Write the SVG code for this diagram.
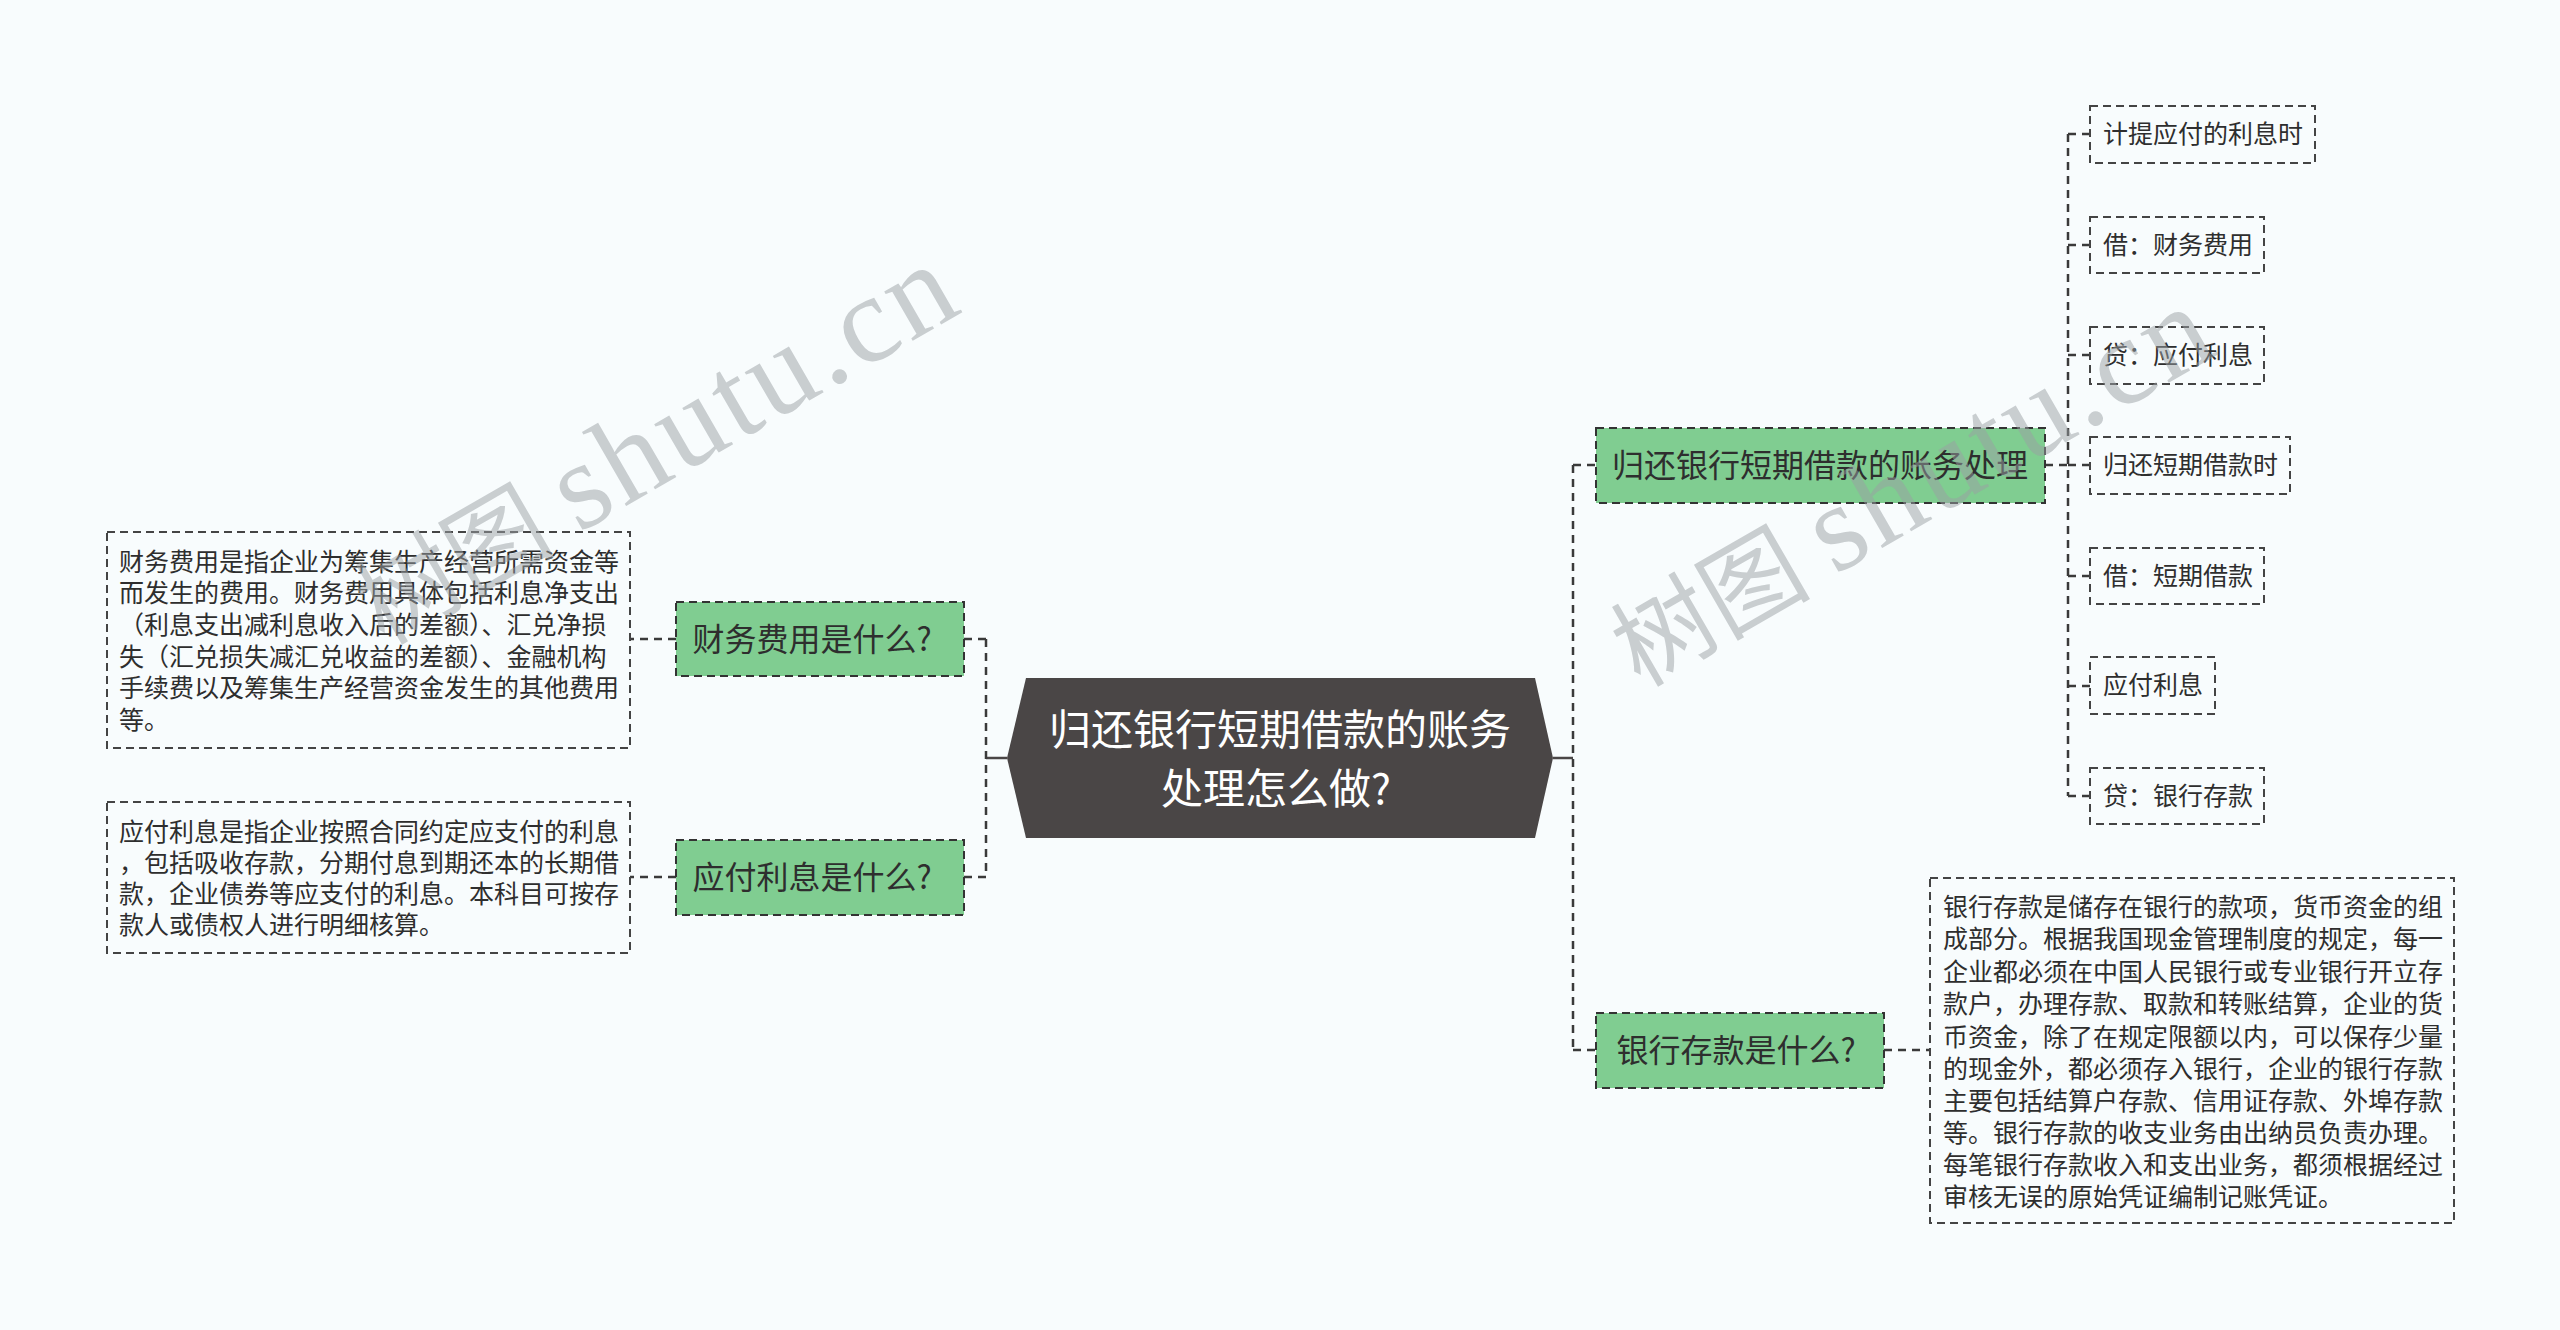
<svg xmlns="http://www.w3.org/2000/svg" width="2560" height="1330" viewBox="0 0 2560 1330">
<style>
.bg{fill:#f8fcfd}
.conn{fill:none;stroke:#3a3a3a;stroke-width:2.5;stroke-dasharray:8 6}
.solid{fill:none;stroke:#4a4646;stroke-width:2.5}
.green{fill:#80cd91;stroke:#333;stroke-width:2;stroke-dasharray:8 5}
.box{fill:none;stroke:#444;stroke-width:2;stroke-dasharray:8 5}
.t{font-family:"Noto Sans CJK SC","Noto Sans",sans-serif;fill:#2e2e2e}
.tg{font-size:32px;text-anchor:middle}
.ts{font-size:25px}
.tc{font-size:42px;fill:#ffffff;text-anchor:middle}
.wm{font-family:"Liberation Serif","Noto Sans CJK SC",serif;font-size:100px;fill:#9aa0a3;fill-opacity:0.5}
.wl{font-size:124px;letter-spacing:4px}
</style>
<rect class="bg" x="0" y="0" width="2560" height="1330"/>

<g id="connectors">
  <path class="solid" d="M1007 758 H986"/>
  <path class="conn" d="M986 639 V877"/>
  <path class="conn" d="M986 639 H964"/>
  <path class="conn" d="M986 877 H964"/>
  <path class="conn" d="M676 639 H630"/>
  <path class="conn" d="M676 877 H630"/>
  <path class="solid" d="M1553 758 H1573"/>
  <path class="conn" d="M1573 465 V1050"/>
  <path class="conn" d="M1573 465 H1596"/>
  <path class="conn" d="M1573 1050 H1596"/>
  <path class="conn" d="M2045 465 H2068"/>
  <path class="conn" d="M2068 134 V796"/>
  <path class="conn" d="M2068 134 H2090"/>
  <path class="conn" d="M2068 245 H2090"/>
  <path class="conn" d="M2068 355 H2090"/>
  <path class="conn" d="M2068 465 H2090"/>
  <path class="conn" d="M2068 576 H2090"/>
  <path class="conn" d="M2068 686 H2090"/>
  <path class="conn" d="M2068 796 H2090"/>
  <path class="conn" d="M1884 1050 H1930"/>
</g>

<g id="root">
  <polygon points="1007,758 1026,678 1535,678 1553,758 1535,838 1026,838" fill="#4a4646"/>
  <text class="t tc" x="1280" y="745">归还银行短期借款的账务</text>
  <text class="t tc" x="1276" y="804">处理怎么做?</text>
</g>

<g id="n-caiwu">
  <rect class="green" x="676" y="602" width="288" height="74"/>
  <text class="t tg" x="812" y="651">财务费用是什么?</text>
</g>
<g id="n-caiwu-detail">
  <rect class="box" x="107" y="532" width="523" height="216"/>
  <text class="t ts" x="119" y="571">财务费用是指企业为筹集生产经营所需资金等</text>
  <text class="t ts" x="119" y="602">而发生的费用。财务费用具体包括利息净支出</text>
  <text class="t ts" x="119" y="634">（利息支出减利息收入后的差额）、汇兑净损</text>
  <text class="t ts" x="119" y="666">失（汇兑损失减汇兑收益的差额）、金融机构</text>
  <text class="t ts" x="119" y="697">手续费以及筹集生产经营资金发生的其他费用</text>
  <text class="t ts" x="119" y="729">等。</text>
</g>

<g id="n-yingfu">
  <rect class="green" x="676" y="840" width="288" height="75"/>
  <text class="t tg" x="812" y="889">应付利息是什么?</text>
</g>
<g id="n-yingfu-detail">
  <rect class="box" x="107" y="802" width="523" height="151"/>
  <text class="t ts" x="119" y="841">应付利息是指企业按照合同约定应支付的利息</text>
  <text class="t ts" x="119" y="872">，包括吸收存款，分期付息到期还本的长期借</text>
  <text class="t ts" x="119" y="903">款，企业债券等应支付的利息。本科目可按存</text>
  <text class="t ts" x="119" y="934">款人或债权人进行明细核算。</text>
</g>

<g id="n-guihuan">
  <rect class="green" x="1596" y="428" width="449" height="75"/>
  <text class="t tg" x="1820" y="477">归还银行短期借款的账务处理</text>
</g>

<g id="c1"><rect class="box" x="2090" y="106" width="225" height="57"/><text class="t ts" x="2103" y="143">计提应付的利息时</text></g>
<g id="c2"><rect class="box" x="2090" y="217" width="174" height="56"/><text class="t ts" x="2103" y="254">借：财务费用</text></g>
<g id="c3"><rect class="box" x="2090" y="327" width="174" height="57"/><text class="t ts" x="2103" y="364">贷：应付利息</text></g>
<g id="c4"><rect class="box" x="2090" y="437" width="200" height="57"/><text class="t ts" x="2103" y="474">归还短期借款时</text></g>
<g id="c5"><rect class="box" x="2090" y="548" width="174" height="56"/><text class="t ts" x="2103" y="585">借：短期借款</text></g>
<g id="c6"><rect class="box" x="2090" y="657" width="125" height="57"/><text class="t ts" x="2103" y="694">应付利息</text></g>
<g id="c7"><rect class="box" x="2090" y="768" width="174" height="56"/><text class="t ts" x="2103" y="805">贷：银行存款</text></g>

<g id="n-yinhang">
  <rect class="green" x="1596" y="1013" width="288" height="75"/>
  <text class="t tg" x="1736" y="1062">银行存款是什么?</text>
</g>
<g id="n-yinhang-detail">
  <rect class="box" x="1930" y="878" width="524" height="345"/>
  <text class="t ts" x="1943" y="916">银行存款是储存在银行的款项，货币资金的组</text>
  <text class="t ts" x="1943" y="948">成部分。根据我国现金管理制度的规定，每一</text>
  <text class="t ts" x="1943" y="981">企业都必须在中国人民银行或专业银行开立存</text>
  <text class="t ts" x="1943" y="1013">款户，办理存款、取款和转账结算，企业的货</text>
  <text class="t ts" x="1943" y="1046">币资金，除了在规定限额以内，可以保存少量</text>
  <text class="t ts" x="1943" y="1078">的现金外，都必须存入银行，企业的银行存款</text>
  <text class="t ts" x="1943" y="1110">主要包括结算户存款、信用证存款、外埠存款</text>
  <text class="t ts" x="1943" y="1142">等。银行存款的收支业务由出纳员负责办理。</text>
  <text class="t ts" x="1943" y="1174">每笔银行存款收入和支出业务，都须根据经过</text>
  <text class="t ts" x="1943" y="1206">审核无误的原始凭证编制记账凭证。</text>
</g>

<g id="watermark">
  <text class="wm" transform="translate(384 646) rotate(-30)">树图 <tspan class="wl">shutu.cn</tspan></text>
  <text class="wm" transform="translate(1640 688) rotate(-30)">树图 <tspan class="wl">shutu.cn</tspan></text>
</g>
</svg>
